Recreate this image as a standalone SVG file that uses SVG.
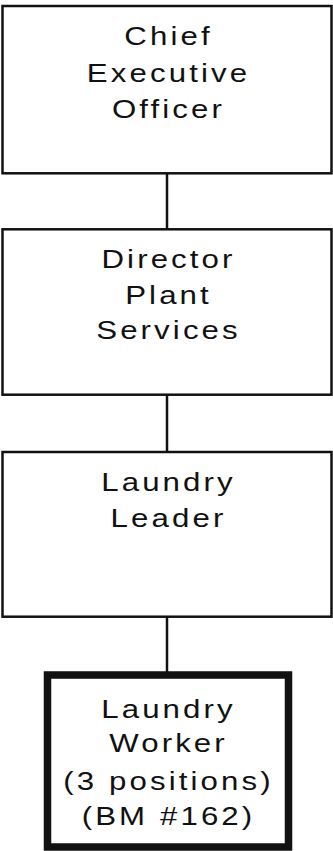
<svg xmlns="http://www.w3.org/2000/svg" width="333" height="851" viewBox="0 0 333 851">
<style>
.box{fill:#fff;stroke:#111;stroke-width:2.5}
.bold{fill:#fff;stroke:#111;stroke-width:7.5}
.conn line{stroke:#111;stroke-width:2.5}
text{font-family:"Liberation Sans",Arial,sans-serif;font-size:26px;fill:#111;text-anchor:middle;letter-spacing:2.6px}
</style>
<rect width="333" height="851" fill="#fff"/>
<g id="connectors" class="conn">
<line x1="167" y1="173" x2="167" y2="229"/>
<line x1="167" y1="395" x2="167" y2="452"/>
<line x1="167" y1="617" x2="167" y2="675"/>
</g>
<g id="ceo">
<rect class="box" x="2.5" y="6" width="329" height="167.3"/>
<text transform="translate(168.5,45) scale(1.2,1)">Chief</text>
<text transform="translate(168.5,81.7) scale(1.2,1)">Executive</text>
<text transform="translate(168.5,118.3) scale(1.2,1)">Officer</text>
</g>
<g id="director">
<rect class="box" x="2.5" y="229.3" width="329" height="165.4"/>
<text transform="translate(168.5,267.7) scale(1.2,1)">Director</text>
<text transform="translate(168.5,304) scale(1.2,1)">Plant</text>
<text transform="translate(168.5,339.3) scale(1.2,1)">Services</text>
</g>
<g id="leader">
<rect class="box" x="2.5" y="452" width="329" height="164.7"/>
<text transform="translate(168.5,490.7) scale(1.2,1)">Laundry</text>
<text transform="translate(168.5,527.3) scale(1.2,1)">Leader</text>
</g>
<g id="worker">
<rect class="bold" x="47.5" y="675" width="241" height="172"/>
<text transform="translate(168.5,718.3) scale(1.2,1)">Laundry</text>
<text transform="translate(168.5,752) scale(1.2,1)">Worker</text>
<text transform="translate(168.5,790) scale(1.2,1)">(3 positions)</text>
<text transform="translate(168.5,824.5) scale(1.2,1)">(BM #162)</text>
</g>
</svg>
